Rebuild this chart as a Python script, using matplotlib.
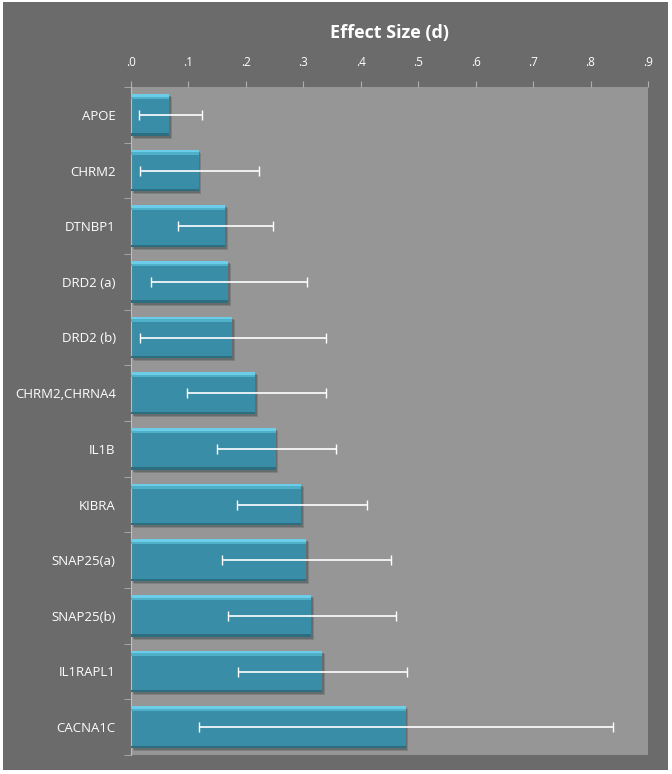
# libraries
import numpy as np
import matplotlib.pyplot as plt
import matplotlib.transforms as mtransforms
from matplotlib.patches import Rectangle

plt.rcParams['font.family'] = ['Open Sans', 'DejaVu Sans']

# data
genes = ['APOE', 'CHRM2', 'DTNBP1', 'DRD2 (a)', 'DRD2 (b)', 'CHRM2,CHRNA4',
         'IL1B', 'KIBRA', 'SNAP25(a)', 'SNAP25(b)', 'IL1RAPL1', 'CACNA1C']
effect = [0.067, 0.118, 0.164, 0.169, 0.176, 0.216,
          0.252, 0.296, 0.305, 0.314, 0.333, 0.478]
ci_low = [0.014, 0.015, 0.082, 0.034, 0.016, 0.098,
          0.149, 0.184, 0.159, 0.168, 0.187, 0.119]
ci_high = [0.123, 0.223, 0.247, 0.307, 0.339, 0.339,
           0.357, 0.411, 0.452, 0.461, 0.481, 0.839]
ticks = [0.0, 0.1, 0.2, 0.3, 0.4, 0.5, 0.6, 0.7, 0.8, 0.9]
tick_labels = ['.0', '.1', '.2', '.3', '.4', '.5', '.6', '.7', '.8', '.9']

effect = np.array(effect)
err = [effect - np.array(ci_low), np.array(ci_high) - effect]
y = np.arange(len(genes))

fig = plt.figure(figsize=(6.72, 7.74), dpi=100, facecolor='white')
# dark chart background
fig.patches.append(Rectangle((3 / 672, 4 / 774), 665 / 672, 768 / 774,
                             transform=fig.transFigure, facecolor='#6b6b6b',
                             edgecolor='none', zorder=-10))

ax = fig.add_axes([131 / 672, 19 / 774, 517 / 672, 668 / 774])
ax.set_facecolor('#969696')

barh = 0.75
# soft drop shadow
for dx, dy, a in [(2.5, -3, 0.25), (1.5, -2, 0.35)]:
    shadow = mtransforms.offset_copy(ax.transData, fig=fig, x=dx, y=dy, units='dots')
    ax.barh(y, effect, height=barh, color='#3a4346', alpha=a, transform=shadow, zorder=1)
# main bar
ax.barh(y, effect, height=barh, color='#3a8da6', zorder=2)
# bevel: light top strip, dark bottom strip
ax.barh(y - barh / 2 + 0.025, effect, height=0.05, color='#6ccde8', zorder=3)
ax.barh(y - barh / 2 + 0.07, effect, height=0.04, color='#4fb0ca', zorder=3)
ax.barh(y + barh / 2 - 0.02, effect, height=0.04, color='#2c6d80', zorder=3)

ax.errorbar(effect, y, xerr=err, fmt='none', ecolor='white', elinewidth=1.2,
            capsize=3.5, capthick=1.0, zorder=4)

ax.set_xlim(0, 0.9)
ax.set_ylim(len(genes) - 0.5, -0.5)

ax.xaxis.tick_top()
ax.set_xticks(ticks)
ax.set_xticklabels(tick_labels)
ax.tick_params(axis='x', colors='#b0b0b0', labelcolor='white', labelsize=8.5,
               length=4, pad=9)
ax.set_yticks(y)
ax.set_yticklabels(genes)
ax.set_yticks(np.arange(len(genes) + 1) - 0.5, minor=True)
ax.tick_params(axis='y', which='major', length=0, pad=11, labelcolor='white',
               labelsize=9.5)
ax.tick_params(axis='y', which='minor', length=5, color='#b0b0b0')

for s in ['top', 'right', 'bottom']:
    ax.spines[s].set_visible(False)
ax.spines['left'].set_color('#bdbdbd')
ax.spines['left'].set_linewidth(0.8)

fig.text(389.5 / 672, 1 - 33 / 774, 'Effect Size (d)', ha='center', va='center',
         color='white', fontsize=13, fontweight='bold')

fig.savefig('out.png', dpi=100, facecolor=fig.get_facecolor())
